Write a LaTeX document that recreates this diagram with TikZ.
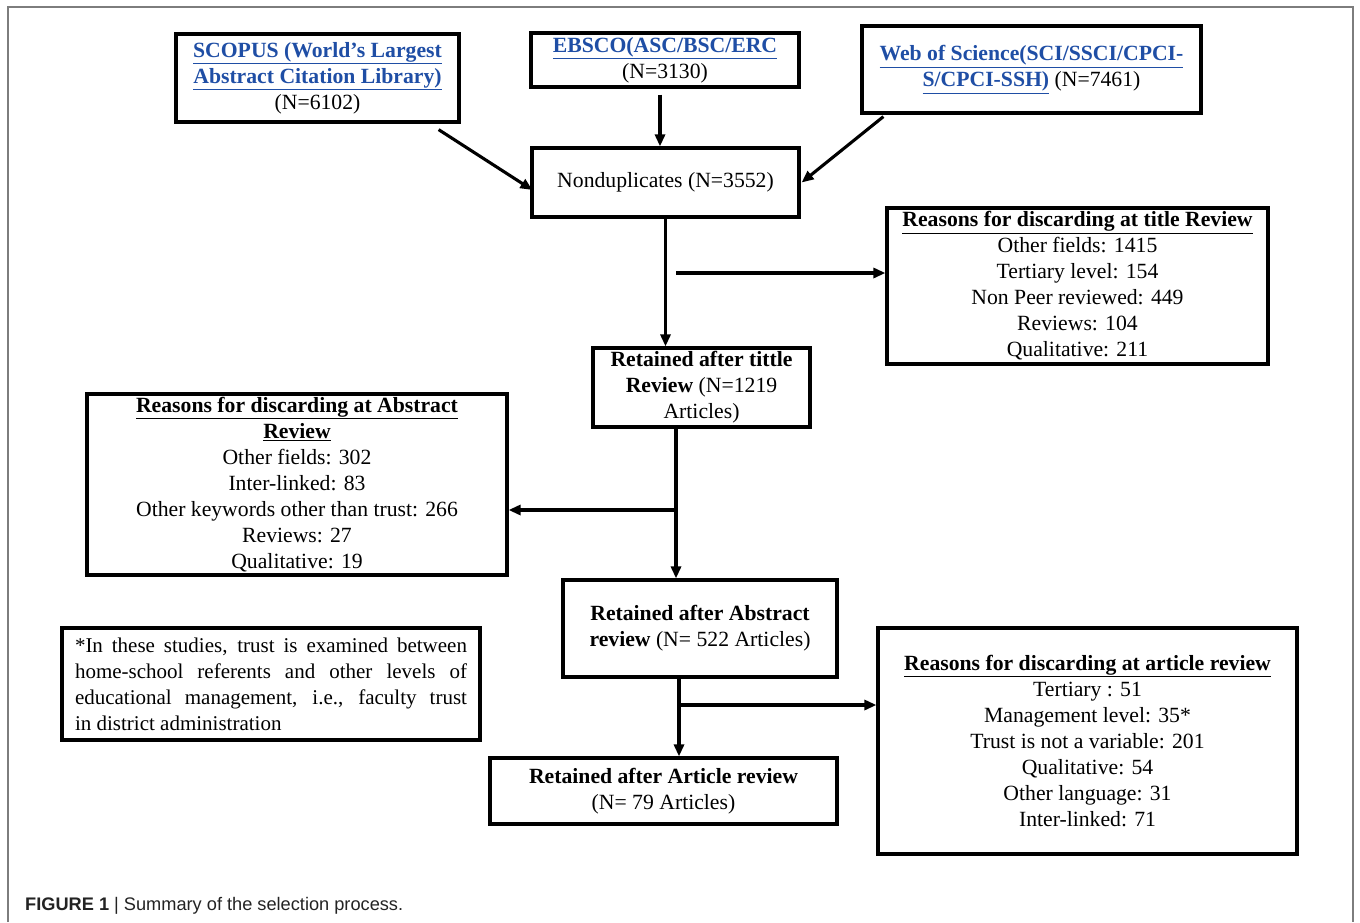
\documentclass[tikz,border=0pt]{standalone}
\usepackage{fontspec}
\setmainfont{Liberation Serif}
\newfontfamily\capfont{Liberation Sans}
\usetikzlibrary{arrows.meta,calc}
\definecolor{linkblue}{RGB}{31,78,165}
\definecolor{framegray}{RGB}{125,125,125}
\definecolor{captxt}{RGB}{35,35,35}
\newcommand{\lnk}[1]{\textcolor{linkblue}{\underline{#1}}}
\newcommand{\hd}[1]{\underline{\textbf{#1}}}
\begin{document}
\begin{tikzpicture}[x=1pt,y=-1pt,
  box/.style={draw, line width=3.2pt, inner sep=0pt, align=center,
    font=\fontsize{21.7}{26}\selectfont},
  arr/.style={line width=3.1pt, -{Triangle[length=12pt,width=10pt]}}]
\useasboundingbox (0,0) rectangle (1360,922);
% outer frame
\draw[framegray, line width=1.3pt] (8,922) -- (8,7) -- (1353,7) -- (1353,922);
% nodes
\node[box, minimum width=283pt, minimum height=88pt] (scopus) at (317.5,78)
  {\lnk{\textbf{SCOPUS (World's Largest}}\\\lnk{\textbf{Abstract Citation Library)}}\\(N=6102)};
\node[box, minimum width=268pt, minimum height=54pt] (ebsco) at (665,60)
  {\lnk{\textbf{EBSCO(ASC/BSC/ERC}}\\(N=3130)};
\node[box, minimum width=339pt, minimum height=87pt] (wos) at (1031.5,69.5)
  {\lnk{\textbf{Web of Science(SCI/SSCI/CPCI-}}\\\lnk{\textbf{S/CPCI-SSH)}} (N=7461)};
\node[box, minimum width=267pt, minimum height=69pt] (nondup) at (665.5,182.5)
  {Nonduplicates (N=3552)};
\node[box, minimum width=381pt, minimum height=156pt] (treasons) at (1077.5,286)
  {\hd{Reasons for discarding at title Review}\\Other fields: 1415\\Tertiary level: 154\\Non Peer reviewed: 449\\Reviews: 104\\Qualitative: 211};
\node[box, minimum width=217pt, minimum height=79pt] (rtitle) at (701.5,387.5)
  {\textbf{Retained after tittle}\\\textbf{Review} (N=1219\\Articles)};
\node[box, minimum width=420pt, minimum height=181pt] (areasons) at (297,484.5)
  {\hd{Reasons for discarding at Abstract}\\\hd{Review}\\Other fields: 302\\Inter-linked: 83\\Other keywords other than trust: 266\\Reviews: 27\\Qualitative: 19};
\node[box, minimum width=274pt, minimum height=97pt] (rabs) at (700,628.5)
  {\textbf{Retained after Abstract}\\\textbf{review} (N= 522 Articles)};
\node[box, minimum width=418pt, minimum height=112pt, align=left, font=\fontsize{21}{26}\selectfont] (note) at (271,684)
  {\makebox[392pt][s]{*In these studies, trust is examined between}\\
   \makebox[392pt][s]{home-school referents and other levels of}\\
   \makebox[392pt][s]{educational management, i.e., faculty trust}\\
   \makebox[392pt][l]{in district administration}};
\node[box, minimum width=347pt, minimum height=66pt] (rart) at (663.5,791)
  {\textbf{Retained after Article review}\\(N= 79 Articles)};
\node[box, minimum width=419pt, minimum height=226pt] (artreasons) at (1087.5,741)
  {\hd{Reasons for discarding at article review}\\Tertiary : 51\\Management level: 35*\\Trust is not a variable: 201\\Qualitative: 54\\Other language: 31\\Inter-linked: 71};
% branch points
\coordinate (b1) at (676,273);
\coordinate (b2) at (676,510);
\coordinate (b3) at (679,705);
% connectors
\draw[arr] ($(scopus.south east)+(-22,6)$) -- ($(nondup.west)+(2,7.5)$);
\draw[arr, shorten <=6pt] ($(ebsco.south)+(-5,0)$) -- ($(ebsco.south |- nondup.north)+(-5,0)$);
\draw[arr] ($(wos.south west)+(23,2)$) -- ($(nondup.east)+(1,0)$);
\draw[arr] (nondup.south) -- (nondup.south |- rtitle.north);
\draw[arr] (b1) -- (b1 -| treasons.west);
\draw[arr] (b2 |- rtitle.south) -- (b2 |- rabs.north);
\draw[arr] (b2) -- (b2 -| areasons.east);
\draw[arr] (b3 |- rabs.south) -- (b3 |- rart.north);
\draw[arr] (b3) -- (b3 -| artreasons.west);
% caption
\node[anchor=base west, inner sep=0pt, text=captxt, font=\capfont\fontsize{18.2}{21}\selectfont] (cap) at (25,910)
  {\textbf{FIGURE 1} | Summary of the selection process.};
\end{tikzpicture}
\end{document}
